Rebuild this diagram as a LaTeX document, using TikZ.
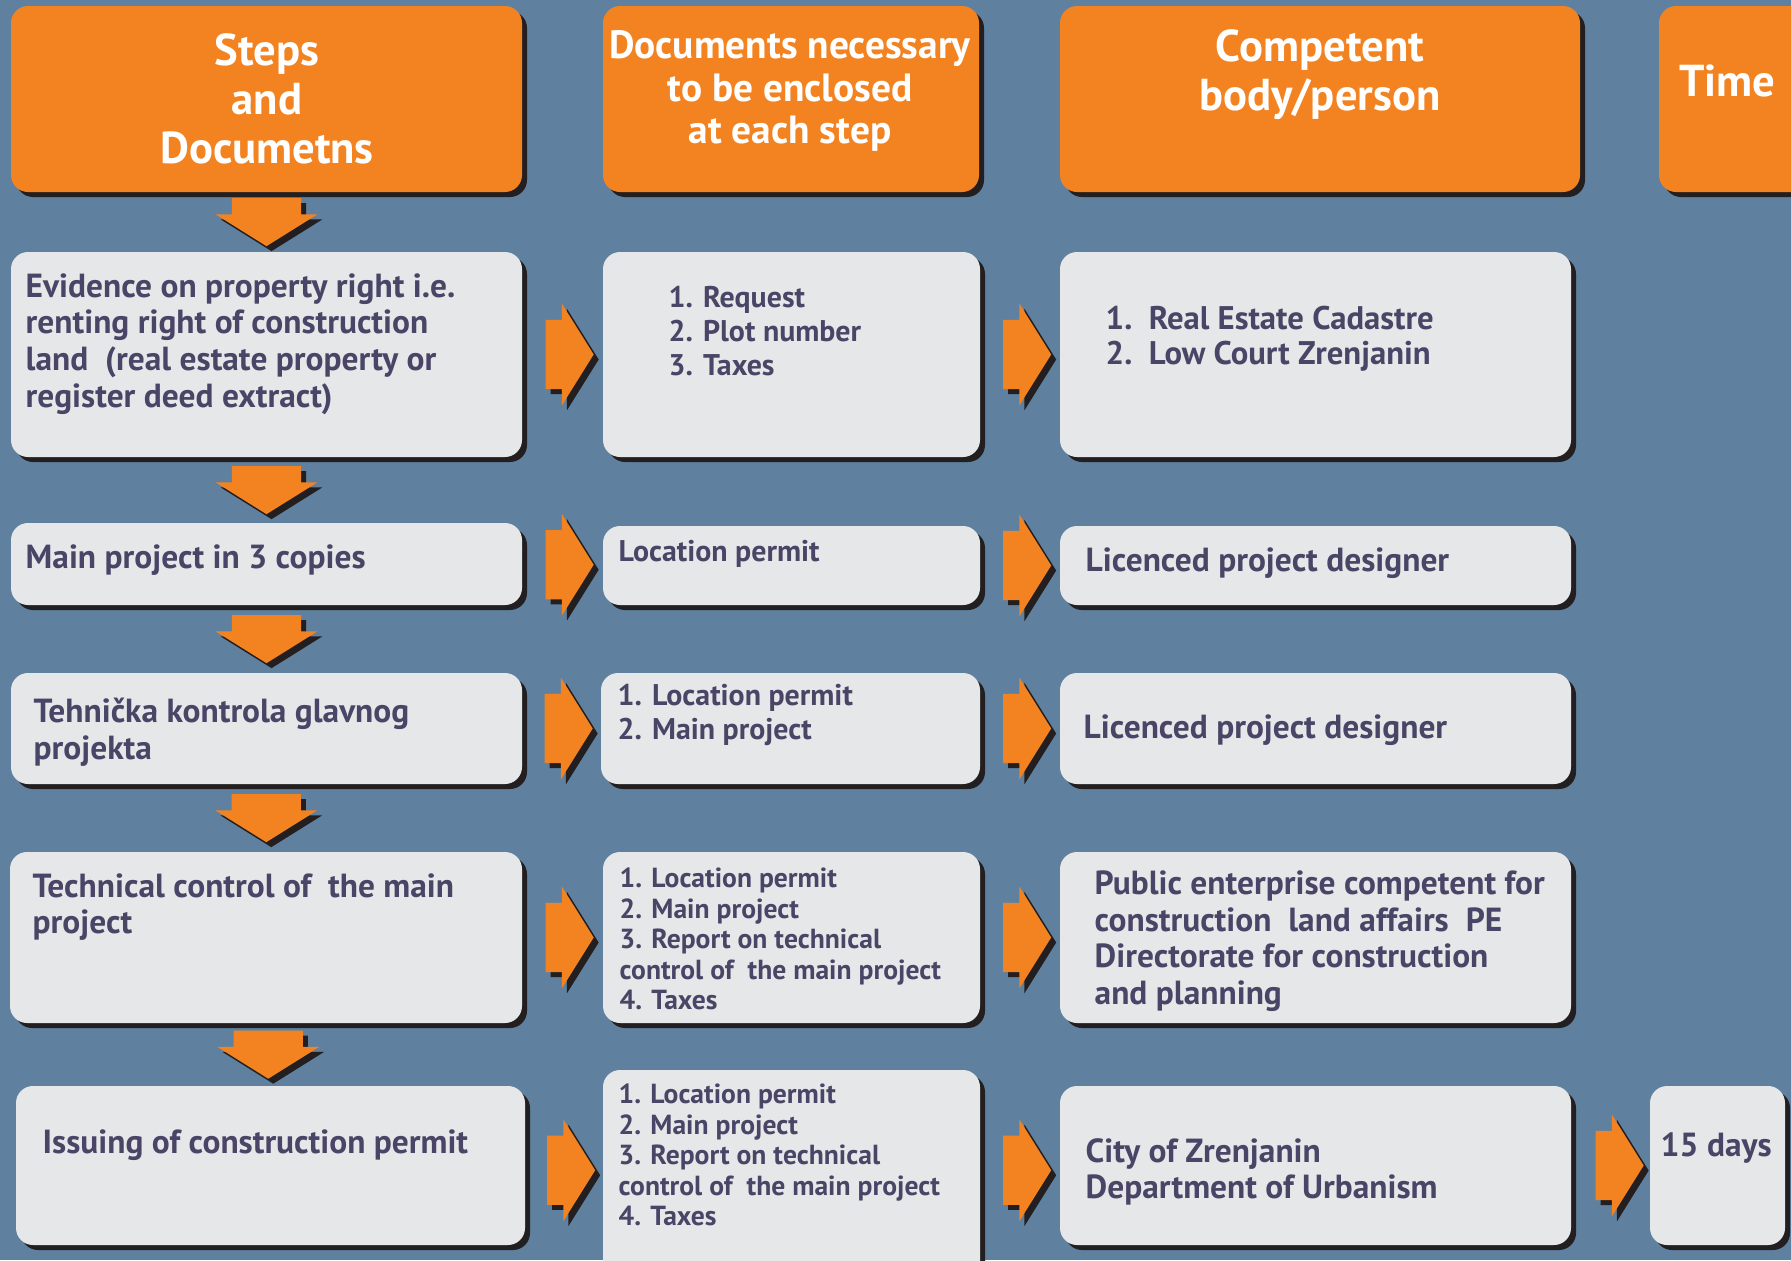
\documentclass[tikz,border=0pt]{standalone}
\usepackage{fontspec}
\newfontfamily\diafont{PT Sans}
\usepackage{tikz}
\usetikzlibrary{positioning}
\usetikzlibrary{calc,fit,shadows,shapes.arrows}

\definecolor{bgblue}{HTML}{5F819F}
\definecolor{boxorange}{HTML}{F38321}
\definecolor{boxgrey}{HTML}{E6E7E8}
\definecolor{txtpurple}{HTML}{4A4466}
\definecolor{shadowcol}{HTML}{231F20}

\begin{document}
\begin{tikzpicture}[x=0.01cm, y=-0.01cm,
    shadowed/.style={drop shadow={shadow xshift=0.05cm, shadow yshift=-0.05cm, fill=shadowcol, opacity=1}},
    headbox/.style={fill=boxorange, rounded corners=0.17cm, inner sep=0pt, shadowed},
    stepbox/.style={fill=boxgrey, rounded corners=0.17cm, inner sep=0pt, shadowed},
    headtext/.style={text=white, align=center, inner sep=0pt, font=\diafont\bfseries\fontsize{12.7}{14}\selectfont},
    steptext/.style={text=txtpurple, align=left, anchor=west, inner sep=0pt, font=\diafont\bfseries\fontsize{9.5}{10.4}\selectfont},
    doctext/.style={steptext, font=\diafont\bfseries\fontsize{8.5}{9.7}\selectfont},
    smalltext/.style={steptext, font=\diafont\bfseries\fontsize{7.85}{8.7}\selectfont},
    rarrow/.style={single arrow, fill=boxorange, inner sep=0pt, text height=0.34cm, text depth=0.34cm,
        minimum height=0.48cm, single arrow head extend=0.16cm, single arrow tip angle=116,
        anchor=tip, shadowed},
    darrow/.style={single arrow, fill=boxorange, inner sep=0pt, text width=0.68cm, text height=0pt, text depth=0pt,
        minimum height=0.48cm, single arrow head extend=0.16cm, single arrow tip angle=116,
        shape border rotate=270, anchor=tip, shadowed}]

    \useasboundingbox (0,0) rectangle (1791,1260);
    \clip (0,0) rectangle (1791,1260);
    \fill[bgblue] (0,0) rectangle (1791,1260);

    % Header boxes
    \node[headbox, fit={(11,6) (522,192)}] (h1) {};
    \node[headbox, fit={(603,6) (979,192)}] (h2) {};
    \node[headbox, fit={(1060,6) (1580,192)}] (h3) {};
    \node[headbox, fit={(1659,6) (1810,192)}] (h4) {};
    \node at (267,99) (h1t) [headtext] {Steps\\and\\Documetns};
    \node at (790,91) (h2t) [headtext, font=\diafont\bfseries\fontsize{11.2}{12.2}\selectfont] {Documents necessary\\to be enclosed\\at each step};
    \node at (1320,75) (h3t) [headtext] {Competent\\body/person};
    \node at (1727,81) (h4t) [headtext] {Time};

    % Row boxes
    \node[stepbox, fit={(11,252) (522,457)}] (s1) {};
    \node[stepbox, fit={(603,252) (980,457)}] (d1) {};
    \node[stepbox, fit={(1060,252) (1571,457)}] (b1) {};
    \node[stepbox, fit={(11,523) (522,605)}] (s2) {};
    \node[stepbox, fit={(603,526) (980,605)}] (d2) {};
    \node[stepbox, fit={(1060,526) (1571,605)}] (b2) {};
    \node[stepbox, fit={(11,673) (522,784)}] (s3) {};
    \node[stepbox, fit={(601,673) (980,784)}] (d3) {};
    \node[stepbox, fit={(1060,673) (1571,784)}] (b3) {};
    \node[stepbox, fit={(10,852) (522,1023)}] (s4) {};
    \node[stepbox, fit={(603,852) (980,1023)}] (d4) {};
    \node[stepbox, fit={(1060,852) (1571,1023)}] (b4) {};
    \node[stepbox, fit={(16,1086) (525,1245)}] (s5) {};
    \node[stepbox, fit={(603,1070) (980,1280)}] (d5) {};
    \node[stepbox, fit={(1060,1086) (1571,1245)}] (b5) {};
    \node[stepbox, fit={(1650,1086) (1785,1245)}] (t5) {};

    % Texts
    \node at (25,344) (s1t) [steptext] {Evidence on property right i.e.\\renting right of construction\\land\ \ (real estate property or\\register deed extract)};
    \node at (668,331) (d1t) [doctext] {1. Request\\2. Plot number\\3. Taxes};
    \node at (1105,339) (b1t) [steptext, font=\diafont\bfseries\fontsize{9.3}{9.9}\selectfont] {1.\ \ Real Estate Cadastre\\2.\ \ Low Court Zrenjanin};
    \node at (25,560) (s2t) [steptext] {Main project in 3 copies};
    \node at (618,554) (d2t) [doctext] {Location permit};
    \node at (1085,563) (b2t) [steptext] {Licenced project designer};
    \node at (33,732) (s3t) [steptext] {Tehnička kontrola glavnog\\projekta};
    \node at (617,715) (d3t) [doctext] {1. Location permit\\2. Main project};
    \node at (1083,730) (b3t) [steptext] {Licenced project designer};
    \node at (32,907) (s4t) [steptext] {Technical control of\ \ the main\\project};
    \node at (619,939) (d4t) [smalltext] {1. Location permit\\2. Main project\\3. Report on technical\\control of\ \ the main project\\4. Taxes};
    \node at (1094,941) (b4t) [steptext] {Public enterprise competent for\\construction\ \ land affairs\ \ PE\\Directorate for construction\\and planning};
    \node at (42,1145) (s5t) [steptext] {Issuing of construction permit};
    \node at (618,1155) (d5t) [smalltext] {1. Location permit\\2. Main project\\3. Report on technical\\control of\ \ the main project\\4. Taxes};
    \node at (1085,1172) (b5t) [steptext] {City of Zrenjanin\\Department of Urbanism};
    \node at (1660,1148) (t5t) [steptext] {15 days};

    % Arrows
    \node at ($(h1.south)!0.5!(s1.north)+(0,25)$) (a0) [darrow] {};
    \node at ($(s1.south)!0.5!(s2.north)+(0,25)$) (a1) [darrow] {};
    \node at ($(s2.south)!0.5!(s3.north)+(0,25)$) (a2) [darrow] {};
    \node at ($(s3.south)!0.5!(s4.north)+(0,25)$) (a3) [darrow] {};
    \node at ($(s4.south)!0.5!(s5.north)+(0,25)$) (a4) [darrow] {};
    \foreach \r in {1,...,5}{
        \node at ($(s\r.east)!0.5!(d\r.west)+(32,0)$) (sd\r) [rarrow] {};
        \node at ($(d\r.east)!0.5!(b\r.west)+(32,0)$) (db\r) [rarrow] {};
    }
    \node at ($(b5.east)!0.5!(t5.west)+(34,0)$) (bt5) [rarrow] {};
\end{tikzpicture}
\end{document}
